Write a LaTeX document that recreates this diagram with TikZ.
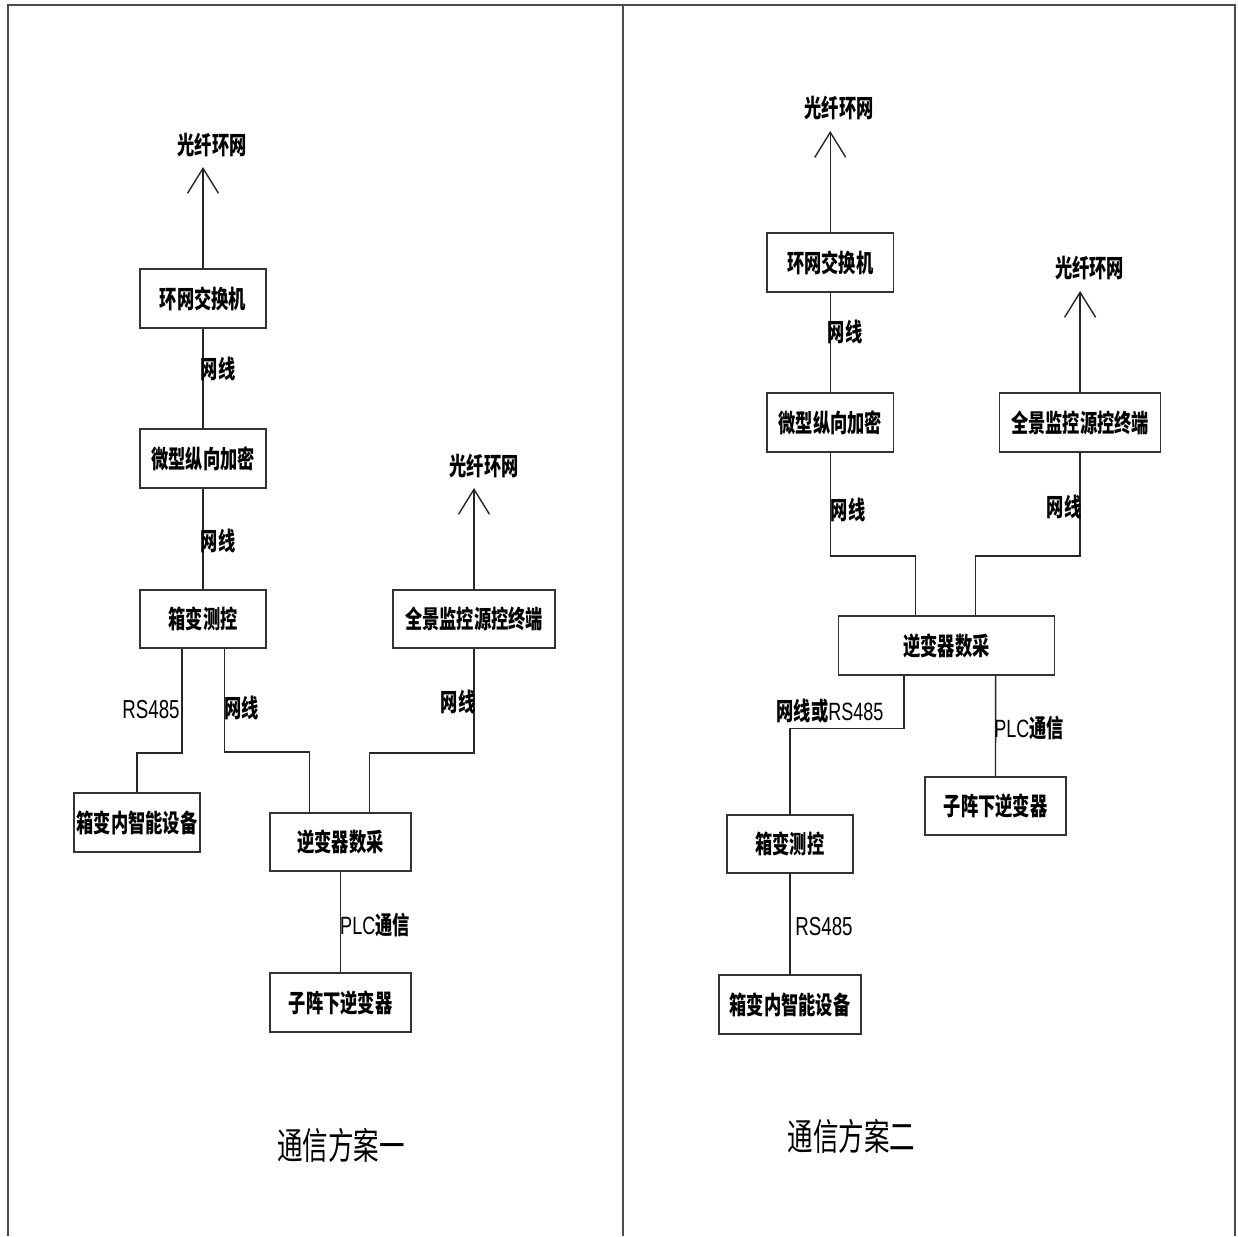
\documentclass[tikz,border=0pt]{standalone}
\usepackage{fontspec}
\usetikzlibrary{arrows.meta}
\newfontfamily\cjk[FakeStretch=0.69]{Noto Sans CJK SC}
\newfontfamily\latn[FakeStretch=0.72]{Liberation Sans}
\begin{document}
\begin{tikzpicture}[x=1pt,y=-1pt,
  frame/.style={draw=black!70,line width=1.8pt},
  wire/.style={draw=black!85,line width=1.4pt},
  fiber/.style={wire,-{Straight Barb[length=25pt,width=31pt,line width=1.4pt]}},
  box/.style={draw=black!80,line width=1.6pt,fill=white,inner sep=0pt,
    font=\cjk\bfseries\fontsize{25}{25}\selectfont},
  lbl/.style={inner sep=0pt,font=\cjk\bfseries\fontsize{25}{25}\selectfont},
  ttl/.style={inner sep=0pt,font=\cjk\fontsize{37}{37}\selectfont}]
\useasboundingbox (0,0) rectangle (1238,1236);
% frame
\draw[frame] (8,1236) -- (8,5) -- (1234.6,5) -- (1234.6,1236);
\draw[frame] (623,5) -- (623,1236);

% ---------- scheme one ----------
\node[box,minimum width=126pt,minimum height=59pt] (Lsw)   at (203,298.5) {环网交换机};
\node[box,minimum width=126pt,minimum height=59pt] (Lenc)  at (203,458.5) {微型纵向加密};
\node[box,minimum width=126pt,minimum height=58pt] (Lbox)  at (203,619)   {箱变测控};
\node[box,minimum width=162pt,minimum height=58pt] (Lpano) at (474,619)   {全景监控源控终端};
\node[box,minimum width=126pt,minimum height=59pt] (Ldev)  at (137,822.5) {箱变内智能设备};
\node[box,minimum width=141pt,minimum height=58pt] (Linv)  at (340.5,842) {逆变器数采};
\node[box,minimum width=141pt,minimum height=59pt] (Lsub)  at (340.5,1002.5) {子阵下逆变器};

\coordinate (LtipA) at (203,167);
\coordinate (LtipB) at (474,488);
\draw[fiber] (Lsw.north) -- (LtipA);
\draw[fiber] (Lpano.north) -- (LtipB);
\node[lbl] (LfA) at (212,145) {光纤环网};
\node[lbl] (LfB) at (484,466) {光纤环网};

\draw[wire] (Lsw.south) -- (Lenc.north);
\draw[wire] (Lenc.south) -- (Lbox.north);
\draw[wire] ([xshift=-21pt]Lbox.south) -- ++(0,104) -| (Ldev.north);
\draw[wire] ([xshift=21.5pt]Lbox.south) -- ++(0,103) -| ([xshift=-31pt]Linv.north);
\draw[wire] (Lpano.south) -- ++(0,104) -| ([xshift=29pt]Linv.north);
\draw[wire] (Linv.south) -- (Lsub.north);

\node[lbl] (Ll1) at (218,368.5) {网线};
\node[lbl] (Ll2) at (218,541) {网线};
\node[lbl,font=\latn\fontsize{26}{26}\selectfont] (Ll3) at (151,710) {RS485};
\node[lbl] (Ll4) at (241.5,707.5) {网线};
\node[lbl] (Ll5) at (458,701.5) {网线};
\node[lbl] (Ll6) at (375,925) {{\latn\mdseries PLC}通信};
\node[ttl] (Lt) at (341,1145) {通信方案一};

% ---------- scheme two ----------
\node[box,minimum width=126.5pt,minimum height=59pt] (Rsw)   at (830.25,262.5) {环网交换机};
\node[box,minimum width=126.5pt,minimum height=59pt] (Renc)  at (830.25,422.5) {微型纵向加密};
\node[box,minimum width=161pt,minimum height=59pt]   (Rpano) at (1080.1,422.5) {全景监控源控终端};
\node[box,minimum width=216pt,minimum height=59pt]   (Rinv)  at (946.6,645.5)  {逆变器数采};
\node[box,minimum width=141pt,minimum height=58pt]   (Rsub)  at (995.5,806)    {子阵下逆变器};
\node[box,minimum width=126pt,minimum height=58pt]   (Rbox)  at (789.9,844)    {箱变测控};
\node[box,minimum width=142pt,minimum height=59pt]   (Rdev)  at (789.9,1004.5) {箱变内智能设备};

\coordinate (RtipA) at (830.25,131);
\coordinate (RtipB) at (1080.1,291);
\draw[fiber] (Rsw.north) -- (RtipA);
\draw[fiber] (Rpano.north) -- (RtipB);
\node[lbl] (RfA) at (839,108) {光纤环网};
\node[lbl] (RfB) at (1089.5,268.5) {光纤环网};

\draw[wire] (Rsw.south) -- (Renc.north);
\draw[wire] (Renc.south) -- ++(0,103) -| ([xshift=-31pt]Rinv.north);
\draw[wire] (Rpano.south) -- ++(0,103) -| ([xshift=29pt]Rinv.north);
\draw[wire] ([xshift=-42.8pt]Rinv.south) -- ++(0,52.7) -| (Rbox.north);
\draw[wire] ([xshift=49pt]Rinv.south) -- (Rsub.north);
\draw[wire] (Rbox.south) -- (Rdev.north);

\node[lbl] (Rl1) at (845,331.5) {网线};
\node[lbl] (Rl2) at (848,510) {网线};
\node[lbl] (Rl3) at (1064,506.5) {网线};
\node[lbl] (Rl4) at (830,711) {网线或{\latn\mdseries RS485}};
\node[lbl] (Rl5) at (1029,728) {{\latn\mdseries PLC}通信};
\node[lbl,font=\latn\fontsize{26}{26}\selectfont] (Rl6) at (824,927) {RS485};
\node[ttl] (Rt) at (851.5,1136) {通信方案二};
\end{tikzpicture}
\end{document}
